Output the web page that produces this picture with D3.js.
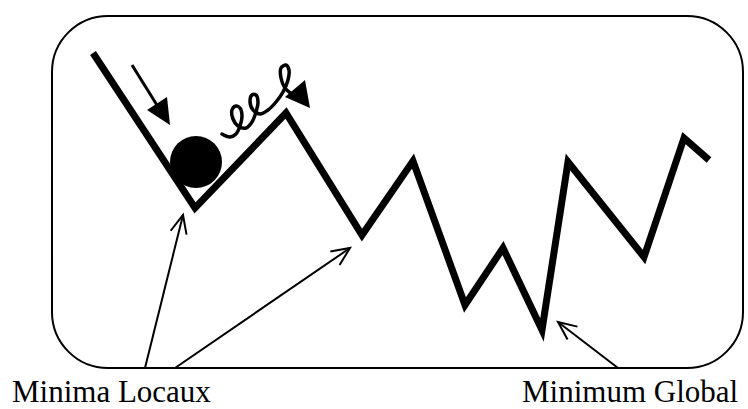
<!DOCTYPE html>
<html><head><meta charset="utf-8">
<script src="https://cdn.jsdelivr.net/npm/d3@7"></script>
<style>html,body{margin:0;padding:0;background:#fff;}svg{display:block;}</style>
</head><body>
<svg id="c" width="748" height="409"></svg>
<script>
// Landscape coordinates: pos (horizontal), energy (vertical)
const landscapePos    = [41, 143, 234, 310, 361, 413, 451, 490, 516, 592, 632, 657];
const landscapeEnergy = [315, 160, 255, 133, 207, 63, 120, 38, 206, 111, 230, 208];
const ball = {pos: 144, energy: 206, r: 26};
const springPos    = [170,178,184,188,190,188,184,180,181,186,194,200,204,206,204,200,198,201,208,216,224,231,236,237,234,229,229,233,240];
const springEnergy = [234,231,234,242,252,260,262,258,249,242,240,246,256,266,273,273,267,258,254,258,266,276,288,298,303,300,290,280,274];
const springHeadPos = [233, 253, 258];
const springHeadEnergy = [271, 288, 260];
const dropArrowPos = [80, 108];
const dropArrowEnergy = [303, 258];
const dropHeadPos = [95, 115, 118];
const dropHeadEnergy = [258, 271, 243];
const labels = ["Minima Locaux", "Minimum Global"];
// pointer arrows: [fromPos, fromEnergy] -> [toPos, toEnergy]
const pointerFrom = [[93, 0], [123, 0], [566, 0]];
const pointerTo   = [[131, 153], [298, 120], [506, 46]];

const svg = d3.select("#c");
const x = d3.scaleLinear().domain([0, 691]).range([52, 743]);
const y = d3.scaleLinear().domain([0, 352]).range([368, 16]);

// frame
svg.append("rect").attr("x", x(0)).attr("y", y(352)).attr("width", x(691)-x(0)).attr("height", y(0)-y(352))
  .attr("rx", 56).attr("ry", 56).attr("fill", "none").attr("stroke", "#000").attr("stroke-width", 2);

const line = d3.line().x(d => x(d[0])).y(d => y(d[1]));

// landscape
const land = landscapePos.map((p, i) => [p, landscapeEnergy[i]]);
svg.append("path").attr("d", line(land)).attr("fill", "none").attr("stroke", "#000")
  .attr("stroke-width", 7).attr("stroke-linejoin", "miter").attr("stroke-linecap", "butt");

// ball
svg.append("circle").attr("cx", x(ball.pos)).attr("cy", y(ball.energy)).attr("r", ball.r).attr("fill", "#000");

// drop arrow
svg.append("path").attr("d", line(dropArrowPos.map((p,i)=>[p, dropArrowEnergy[i]])))
  .attr("stroke", "#000").attr("stroke-width", 3).attr("fill", "none");
svg.append("path").attr("d", line(dropHeadPos.map((p,i)=>[p, dropHeadEnergy[i]])) + "Z").attr("fill", "#000");

// spring
const springLine = d3.line().x(d => x(d[0])).y(d => y(d[1])).curve(d3.curveCatmullRom.alpha(0.5));
svg.append("path").attr("d", springLine(springPos.map((p,i)=>[p, springEnergy[i]])))
  .attr("fill", "none").attr("stroke", "#000").attr("stroke-width", 3.5).attr("stroke-linecap", "round").attr("stroke-linejoin", "round");
svg.append("path").attr("d", line(springHeadPos.map((p,i)=>[p, springHeadEnergy[i]])) + "Z").attr("fill", "#000");

// pointer arrows
pointerFrom.forEach((f, i) => {
  const t = pointerTo[i];
  const x1 = x(f[0]), y1 = y(f[1]), x2 = x(t[0]), y2 = y(t[1]);
  svg.append("line").attr("x1", x1).attr("y1", y1).attr("x2", x2).attr("y2", y2)
    .attr("stroke", "#000").attr("stroke-width", 2);
  const ang = Math.atan2(y1 - y2, x1 - x2), L = 20, a = 0.42;
  const pts = [[x2 + L*Math.cos(ang+a), y2 + L*Math.sin(ang+a)], [x2, y2], [x2 + L*Math.cos(ang-a), y2 + L*Math.sin(ang-a)]];
  svg.append("path").attr("d", d3.line()(pts)).attr("fill", "none").attr("stroke", "#000").attr("stroke-width", 2);
});

// labels
const font = "'Liberation Serif', 'Times New Roman', serif";
svg.append("text").attr("x", 12).attr("y", 402).text(labels[0])
  .attr("font-family", font).attr("font-size", 31).attr("fill", "#000");
svg.append("text").attr("x", 522).attr("y", 402).text(labels[1])
  .attr("font-family", font).attr("font-size", 31).attr("fill", "#000");
</script>
</body></html>
